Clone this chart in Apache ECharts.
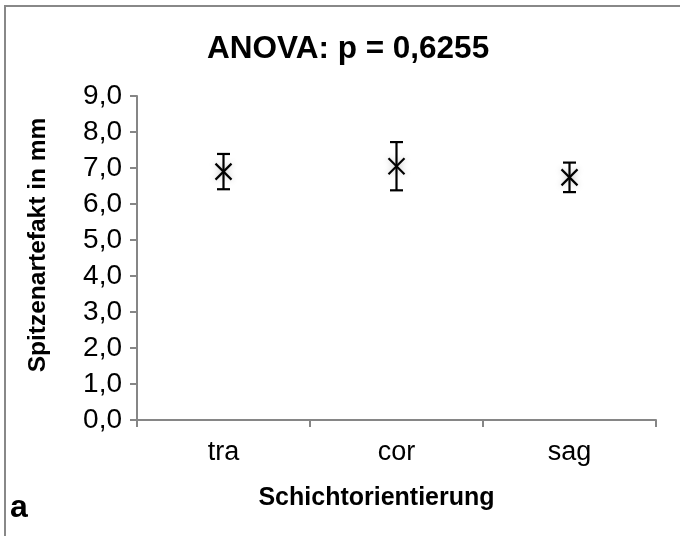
<!DOCTYPE html>
<html>
<head>
<meta charset="utf-8">
<script src="https://cdn.jsdelivr.net/npm/echarts@6/dist/echarts.min.js"></script>
<style>
html,body{margin:0;padding:0;background:#fff;}
#chart{width:680px;height:536px;}
</style>
</head>
<body>
<div id="chart"></div>
<script>
// Data
var categories = ['tra', 'cor', 'sag'];
var means = [6.90, 7.05, 6.74];
var errors = [0.49, 0.67, 0.41];
var yTicks = [0, 1, 2, 3, 4, 5, 6, 7, 8, 9];
var titleText = 'ANOVA: p = 0,6255';
var xName = 'Schichtorientierung';
var yName = 'Spitzenartefakt in mm';
var panelLetter = 'a';

var seriesData = categories.map(function (c, i) {
  return [i, means[i], means[i] - errors[i], means[i] + errors[i]];
});

var FONT = '"Liberation Sans", Arial, sans-serif';
var AXIS_COLOR = '#868686';

var chart = echarts.init(document.getElementById('chart'), null, {renderer: 'canvas'});

chart.setOption({
  backgroundColor: '#ffffff',
  animation: false,
  title: {
    text: titleText,
    left: 202,
    top: 28,
    textStyle: {fontFamily: FONT, fontWeight: 'bold', fontSize: 31.5, color: '#000'}
  },
  grid: {left: 137, right: 24, top: 96, bottom: 116, containLabel: false},
  xAxis: {
    type: 'category',
    data: categories,
    boundaryGap: true,
    name: xName,
    nameLocation: 'middle',
    nameGap: 66,
    nameTextStyle: {fontFamily: FONT, fontWeight: 'bold', fontSize: 25, color: '#000', padding: [0, 40, 0, 0]},
    axisLine: {show: true, lineStyle: {color: AXIS_COLOR, width: 2}},
    axisTick: {show: true, alignWithLabel: false, length: 7, lineStyle: {color: AXIS_COLOR, width: 2}},
    axisLabel: {fontFamily: FONT, fontSize: 27, color: '#000', margin: 19},
    splitLine: {show: false}
  },
  yAxis: {
    type: 'value',
    min: yTicks[0],
    max: yTicks[yTicks.length - 1],
    interval: 1,
    name: yName,
    nameLocation: 'middle',
    nameGap: 86,
    nameRotate: 90,
    nameTextStyle: {fontFamily: FONT, fontWeight: 'bold', fontSize: 24.5, color: '#000', padding: [0, 0, 0, 26]},
    axisLine: {show: true, lineStyle: {color: AXIS_COLOR, width: 2}},
    axisTick: {show: true, length: 7, lineStyle: {color: AXIS_COLOR, width: 2}},
    axisLabel: {
      fontFamily: FONT, fontSize: 28, color: '#000', margin: 15,
      formatter: function (v) { return v.toFixed(1).replace('.', ','); }
    },
    splitLine: {show: false}
  },
  graphic: [
    {
      type: 'polyline',
      shape: {points: [[5, 600], [5, 6], [700, 6]]},
      style: {stroke: '#888888', lineWidth: 2, fill: null},
      silent: true
    },
    {
      type: 'text',
      left: 10,
      top: 492,
      style: {text: panelLetter, font: 'bold 32px ' + FONT, fill: '#000'}
    }
  ],
  series: [{
    type: 'custom',
    data: seriesData,
    encode: {x: 0, y: [1, 2, 3]},
    renderItem: function (params, api) {
      var mid = api.coord([api.value(0), api.value(1)]);
      var lo = api.coord([api.value(0), api.value(2)]);
      var hi = api.coord([api.value(0), api.value(3)]);
      var cap = 6.5, arm = 8;
      var st = {stroke: '#000', lineWidth: 2.2, fill: null};
      return {
        type: 'group',
        children: [
          {type: 'line', shape: {x1: lo[0], y1: lo[1], x2: hi[0], y2: hi[1]}, style: st},
          {type: 'line', shape: {x1: hi[0] - cap, y1: hi[1], x2: hi[0] + cap, y2: hi[1]}, style: st},
          {type: 'line', shape: {x1: lo[0] - cap, y1: lo[1], x2: lo[0] + cap, y2: lo[1]}, style: st},
          {type: 'line', shape: {x1: mid[0] - arm, y1: mid[1] - arm, x2: mid[0] + arm, y2: mid[1] + arm},
            style: {stroke: '#000', lineWidth: 2.2, shadowBlur: 6, shadowColor: 'rgba(0,0,0,0.25)'}},
          {type: 'line', shape: {x1: mid[0] - arm, y1: mid[1] + arm, x2: mid[0] + arm, y2: mid[1] - arm},
            style: {stroke: '#000', lineWidth: 2.2, shadowBlur: 6, shadowColor: 'rgba(0,0,0,0.25)'}}
        ]
      };
    }
  }]
});
</script>
</body>
</html>
